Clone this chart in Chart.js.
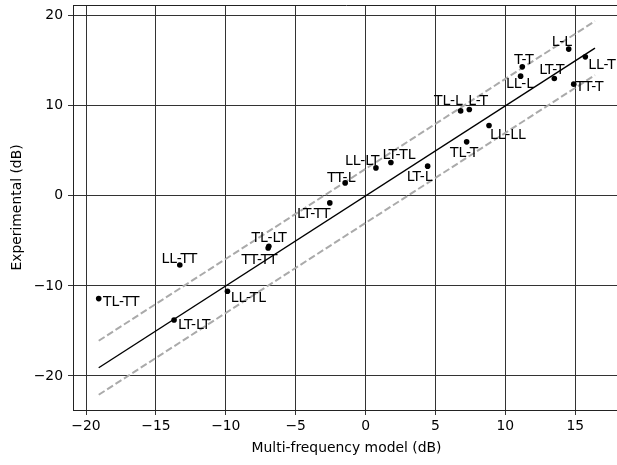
<!DOCTYPE html>
<html>
<head>
<meta charset="utf-8">
<script src="https://cdn.jsdelivr.net/npm/chart.js@4/dist/chart.umd.min.js"></script>
<style>
  html, body { margin: 0; padding: 0; background: #fff; overflow: hidden; }
  #wrap { width: 617px; height: 465px; overflow: hidden; }
  canvas { display: block; }
</style>
</head>
<body>
<div id="wrap"><canvas id="c" width="640" height="465"></canvas></div>
<script>
// Interaction pairs: multi-frequency model prediction vs. measured value (dB)
const pairLabels = ['L-L', 'T-T', 'LL-L', 'LT-T', 'LL-T', 'TT-T', 'TL-L', 'L-T', 'LL-LL', 'TL-T',
                    'LT-TT', 'TT-L', 'LL-LT', 'LT-TL', 'LT-L', 'LL-TT', 'TL-LT', 'TT-TT', 'LL-TL', 'LT-LT', 'TL-TT'];
const modelDb = [14.53, 11.21, 11.09, 13.50, 15.72, 14.89, 6.80, 7.42, 8.83, 7.23,
                 -2.56, -1.46, 0.74, 1.81, 4.44, -13.29, -6.92, -6.97, -9.88, -13.70, -19.09];
const experimentalDb = [16.30, 14.33, 13.30, 13.03, 15.44, 12.41, 9.44, 9.59, 7.81, 6.00,
                        -0.78, 1.44, 3.11, 3.70, 3.30, -7.67, -5.59, -5.78, -10.59, -13.78, -11.41];

// Identity line extent and the +/- tolerance band around it (dB)
const identityRange = [-19.09, 16.41];
const toleranceDb = 3;

// Axis ticks
const xTicks = [-20, -15, -10, -5, 0, 5, 10, 15];
const yTicks = [-20, -10, 0, 10, 20];

// Label placement next to each point, in pixels (text left edge, baseline)
const labelDx = [-17, -8, -14.7, -15, 3, 2, -26.7, -1, 1, -16.7,
                 -32.7, -18, -31, -8.3, -21, -18.3, -17.3, -26.6, 3.3, 4, 4.3];
const labelDy = [-3.3, -2.7, 12, -4.7, 12, 6.4, -6, -4.7, 13.6, 14.7,
                 14.7, -1.3, -2.7, -3.7, 14.7, -2.3, -4.6, 16.3, 11, 9.3, 7.3];

const FONT = '"DejaVu Sans", "Liberation Sans", sans-serif';
const fmt = v => (v < 0 ? '\u2212' + Math.abs(v) : String(v));

const points = modelDb.map((x, i) => ({ x, y: experimentalDb[i] }));
const lineAt = off => identityRange.map(x => ({ x, y: x + off }));

const pointLabels = {
  id: 'pointLabels',
  afterDatasetsDraw(chart) {
    const { ctx, scales: { x, y } } = chart;
    ctx.save();
    ctx.font = '13.9px ' + FONT;
    ctx.fillStyle = '#000';
    ctx.textAlign = 'left';
    ctx.textBaseline = 'alphabetic';
    pairLabels.forEach((t, i) => {
      ctx.fillText(t, x.getPixelForValue(modelDb[i]) + labelDx[i], y.getPixelForValue(experimentalDb[i]) + labelDy[i]);
    });
    ctx.restore();
  }
};

// Top edge of the plot frame
const frame = {
  id: 'frame',
  afterDraw(chart) {
    const { ctx, chartArea: a } = chart;
    ctx.save();
    ctx.strokeStyle = '#222';
    ctx.lineWidth = 1;
    ctx.beginPath();
    ctx.moveTo(a.left, a.top + 0.5);
    ctx.lineTo(a.right, a.top + 0.5);
    ctx.stroke();
    ctx.restore();
  }
};

new Chart(document.getElementById('c'), {
  type: 'scatter',
  data: {
    datasets: [
      { data: lineAt(toleranceDb), showLine: true, borderColor: '#aaaaaa', borderWidth: 2,
        borderDash: [7, 3], pointRadius: 0, order: 3 },
      { data: lineAt(-toleranceDb), showLine: true, borderColor: '#aaaaaa', borderWidth: 2,
        borderDash: [7, 3], pointRadius: 0, order: 3 },
      { data: lineAt(0), showLine: true, borderColor: '#000', borderWidth: 1.4,
        pointRadius: 0, order: 2 },
      { data: points, backgroundColor: '#000', borderColor: '#000', pointRadius: 2.8,
        pointBorderWidth: 0, order: 1 }
    ]
  },
  options: {
    responsive: false,
    animation: false,
    events: [],
    layout: { padding: { left: 0, top: 5, right: 20, bottom: 0 } },
    plugins: { legend: { display: false }, tooltip: { enabled: false } },
    scales: {
      x: {
        type: 'linear', min: -20.93, max: 18.2,
        afterBuildTicks: s => { s.ticks = xTicks.map(v => ({ value: v })); },
        afterFit: s => { s.height = 55; s.paddingLeft = 0; s.paddingRight = 0; },
        grid: { color: '#333', lineWidth: 1, tickLength: 5 },
        border: { color: '#222', width: 1 },
        ticks: { callback: fmt, color: '#000', font: { family: FONT, size: 13.9 }, padding: 3, maxRotation: 0 },
        title: { display: true, text: 'Multi-frequency model (dB)', color: '#000',
                 font: { family: FONT, size: 13.9 }, padding: { top: 0, bottom: 8.5 } }
      },
      y: {
        type: 'linear', min: -23.78, max: 21.2,
        afterBuildTicks: s => { s.ticks = yTicks.map(v => ({ value: v })); },
        afterFit: s => { s.width = 73; s.paddingTop = 0; s.paddingBottom = 0; },
        grid: { color: '#333', lineWidth: 1, tickLength: 5 },
        border: { color: '#222', width: 1 },
        ticks: { callback: fmt, color: '#000', font: { family: FONT, size: 13.9 }, padding: 5 },
        title: { display: true, text: 'Experimental (dB)', color: '#000',
                 font: { family: FONT, size: 13.9 }, padding: { top: 9, bottom: 0 } }
      }
    }
  },
  plugins: [pointLabels, frame]
});
</script>
</body>
</html>
